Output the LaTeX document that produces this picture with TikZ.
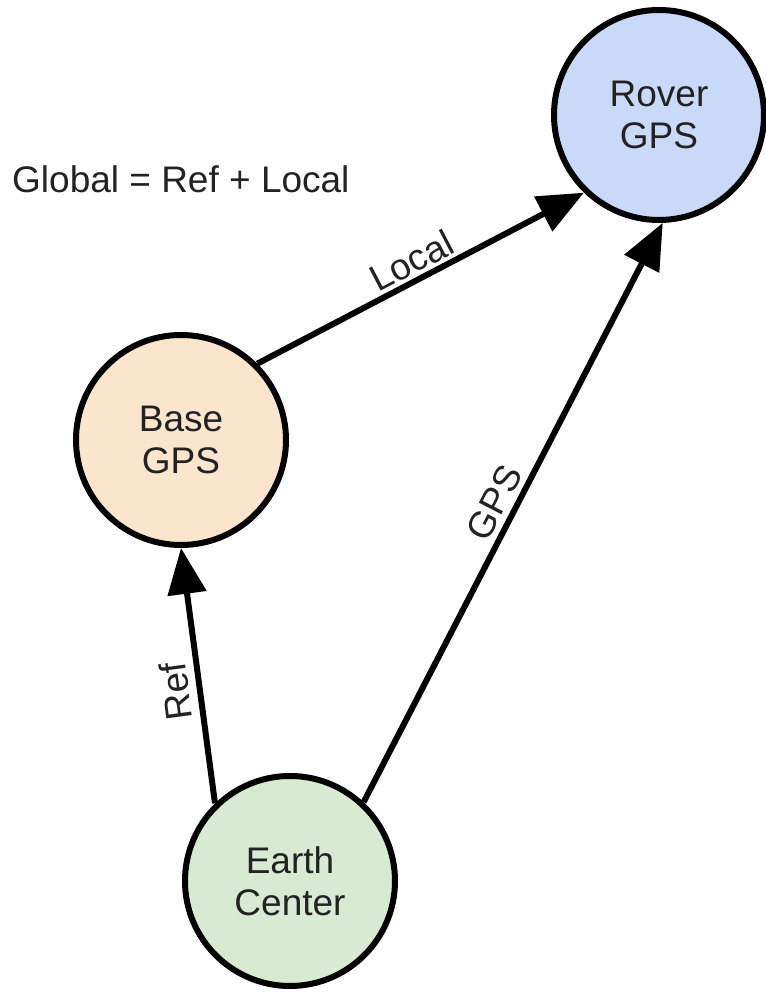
\documentclass[tikz,border=0pt]{standalone}
\usepackage{fontspec}
\setmainfont{Liberation Sans}
\usetikzlibrary{arrows.meta}
\definecolor{roverfill}{HTML}{C9DAF8}
\definecolor{basefill}{HTML}{FCE5CD}
\definecolor{earthfill}{HTML}{D9EAD3}
\definecolor{txt}{HTML}{222222}
\begin{document}
\begin{tikzpicture}[x=1pt,y=1pt,
  gnode/.style={circle, draw=black, line width=6pt, minimum size=210pt, inner sep=0pt,
    align=center, font=\fontsize{37}{42}\selectfont, text=txt},
  conn/.style={line width=6pt, -{Triangle[length=46pt,width=38pt]}},
  lbl/.style={font=\fontsize{37}{42}\selectfont, text=txt, sloped, above}]
\useasboundingbox (0,0) rectangle (766,994);
\node[gnode, fill=roverfill] (rover) at (659,879) {Rover\\GPS};
\node[gnode, fill=basefill] (base) at (181,554) {Base\\GPS};
\node[gnode, fill=earthfill] (earth) at (290,113) {Earth\\Center};
\node[anchor=base west, inner sep=0pt, font=\fontsize{37}{42}\selectfont, text=txt] (eq) at (12,801) {Global = Ref + Local};
\draw[conn] (base.45) -- node[lbl, pos=0.5, yshift=0pt] {Local} (rover.226);
\draw[conn] (earth.47) -- node[lbl, pos=0.5, yshift=2pt] {GPS} (rover.-88);
\draw[conn] (earth.134) -- node[lbl, allow upside down, pos=0.45, yshift=4pt] {Ref} (base.-90);
\end{tikzpicture}
\end{document}
